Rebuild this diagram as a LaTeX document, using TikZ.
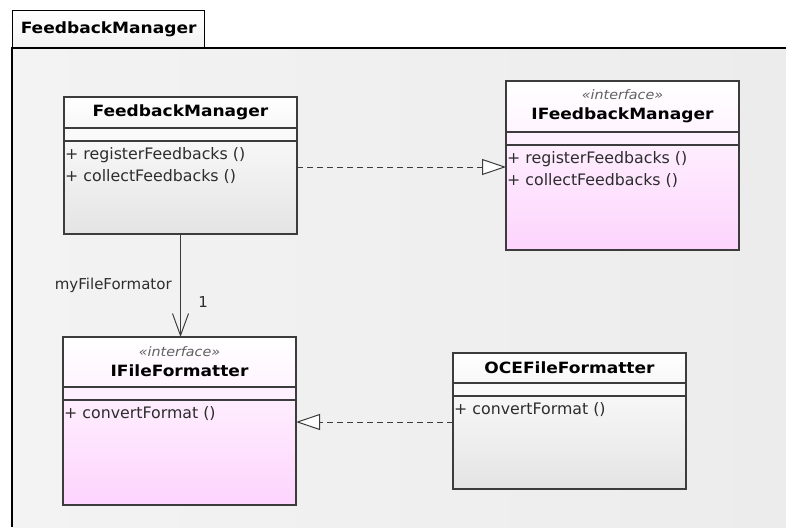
\documentclass[tikz,border=0pt]{standalone}
\usepackage{fontspec}
\setmainfont{DejaVu Sans}
\newfontfamily\titlefont[FakeStretch=1.1]{DejaVu Sans}
\usetikzlibrary{positioning,arrows.meta}

\definecolor{boxline}{RGB}{60,60,60}
\definecolor{pkgbg}{RGB}{243,243,243}
\definecolor{pkgbgdark}{RGB}{236,236,236}
\definecolor{ifpink}{RGB}{253,212,253}
\definecolor{clgray}{RGB}{228,228,228}
\definecolor{txtgray}{RGB}{45,45,45}

\tikzset{
    compart/.style={draw=boxline, line width=1.3pt, minimum width=233pt, inner sep=0pt, outer sep=0pt},
    clname/.style={compart, align=center, font=\titlefont\bfseries\fontsize{15.5}{20}\selectfont},
    plainclass/.style={top color=white, bottom color=white!70!clgray},
    plainops/.style={top color=white!70!clgray, bottom color=clgray},
    ifclass/.style={top color=white, bottom color=white!75!ifpink},
    ifops/.style={top color=white!60!ifpink, bottom color=ifpink},
    opslist/.style={anchor=north west, align=left, inner xsep=1pt, inner ysep=6pt, text=txtgray,
        font=\fontsize{15.8}{22}\selectfont},
    realize/.style={draw=boxline, line width=1pt, dash pattern=on 6pt off 4pt,
        -{Triangle[open, fill=white, length=24pt, width=16pt, line width=1pt]}},
    assoc/.style={draw=boxline, line width=1pt, -{Straight Barb[length=22pt, width=16pt, line width=1pt]}}
}

\newcommand{\stereo}{{\color{gray!75!black}\mdseries\itshape\fontsize{13}{16}\selectfont «interface»}}

\begin{document}
\begin{tikzpicture}[x=1pt, y=-1pt, node distance=0pt]
    \useasboundingbox (0,0) rectangle (786,527);

    % package frame
    \shade[left color=pkgbg, right color=pkgbgdark] (12,48) rectangle (786,527);
    \node[draw=black, line width=1.3pt, top color=white, bottom color=pkgbg, anchor=south west,
          minimum width=192pt, minimum height=37pt, inner sep=0pt,
          font=\titlefont\bfseries\fontsize{15.5}{18}\selectfont] (pkgTab) at (12,48) {FeedbackManager};
    \draw[black, line width=1.3pt] (786,48) -- (pkgTab.south west) -- (12,527);

    % FeedbackManager
    \node[clname, plainclass, minimum height=31pt] (fmName) at (180.5,112.5) {FeedbackManager};
    \node[compart, fill=white!80!clgray, minimum height=13pt, below=of fmName] (fmAttr) {};
    \node[compart, plainops, minimum height=93pt, below=of fmAttr] (fmOps) {};
    \node[opslist] (fmList) at (fmOps.north west) {+ registerFeedbacks ()\\+ collectFeedbacks ()};

    % IFeedbackManager
    \node[clname, ifclass, minimum height=51pt] (ifmName) at (622.5,106.5) {\stereo\\IFeedbackManager};
    \node[compart, fill=white!65!ifpink, minimum height=13pt, below=of ifmName] (ifmAttr) {};
    \node[compart, ifops, minimum height=105pt, below=of ifmAttr] (ifmOps) {};
    \node[opslist] (ifmList) at (ifmOps.north west) {+ registerFeedbacks ()\\+ collectFeedbacks ()};

    % IFileFormatter
    \node[clname, ifclass, minimum height=50pt] (iffName) at (179.5,362) {\stereo\\IFileFormatter};
    \node[compart, fill=white!65!ifpink, minimum height=13pt, below=of iffName] (iffAttr) {};
    \node[compart, ifops, minimum height=105pt, below=of iffAttr] (iffOps) {};
    \node[opslist] (iffList) at (iffOps.north west) {+ convertFormat ()};

    % OCEFileFormatter
    \node[clname, plainclass, minimum height=30pt] (oceName) at (569.5,368) {OCEFileFormatter};
    \node[compart, fill=white!80!clgray, minimum height=13pt, below=of oceName] (oceAttr) {};
    \node[compart, plainops, minimum height=93pt, below=of oceAttr] (oceOps) {};
    \node[opslist] (oceList) at (oceOps.north west) {+ convertFormat ()};

    % relations
    \draw[realize] ([yshift=-26pt]fmOps.north east) -- ([yshift=-26pt]fmOps.north east -| ifmOps.west);
    \draw[realize] ([yshift=-26pt]oceOps.north west) -- ([yshift=-26pt]oceOps.north west -| iffOps.east);
    \draw[assoc] (fmOps.south) -- (fmOps.south |- iffName.north)
        node[pos=0.5, left=5pt, text=txtgray, font=\fontsize{15}{18}\selectfont] (roleLbl) {myFileFormator}
        node[pos=0.66, right=14pt, text=txtgray, font=\fontsize{15}{18}\selectfont] (multLbl) {1};
\end{tikzpicture}
\end{document}
